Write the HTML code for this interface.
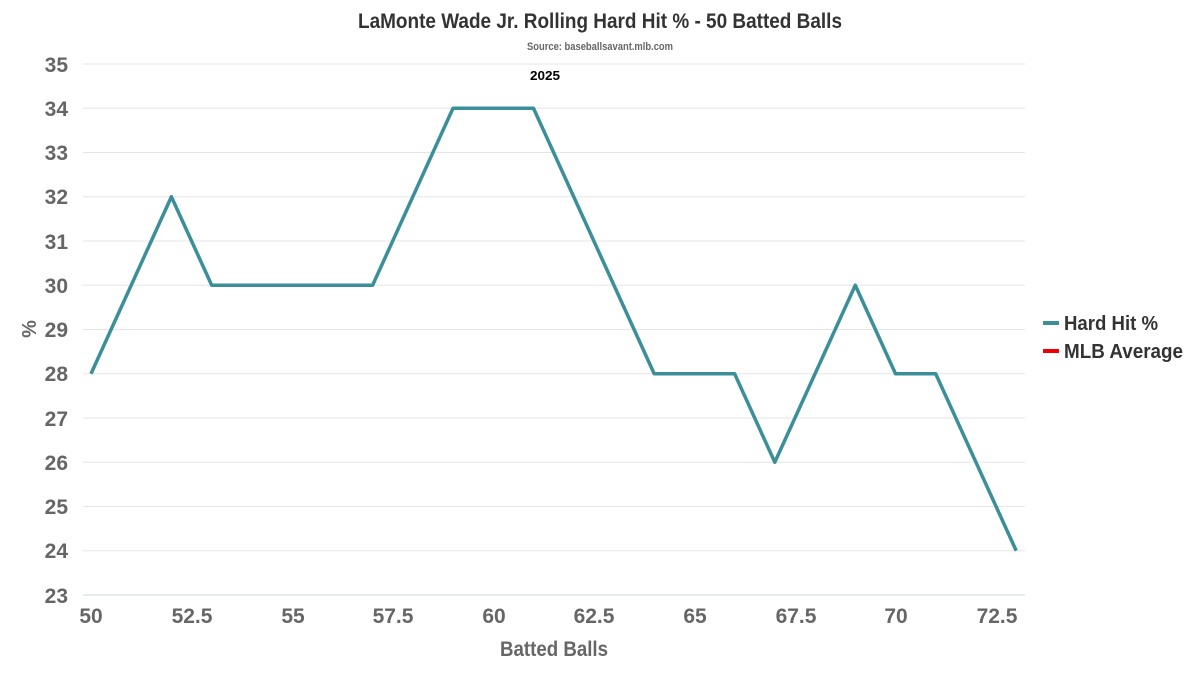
<!DOCTYPE html>
<html><head><meta charset="utf-8"><style>
html,body{margin:0;padding:0;background:#fff;}
svg text{font-family:"Liberation Sans Narrow","Liberation Sans",sans-serif;font-weight:bold;}
</style></head><body>
<svg width="1200" height="675" xmlns="http://www.w3.org/2000/svg">
<rect width="1200" height="675" fill="#fff"/>
<text x="358" y="28" font-size="21" fill="#333" textLength="484" lengthAdjust="spacingAndGlyphs">LaMonte Wade Jr. Rolling Hard Hit % - 50 Batted Balls</text>
<text x="527" y="50" font-size="11" fill="#666" textLength="146" lengthAdjust="spacingAndGlyphs">Source: baseballsavant.mlb.com</text>
<text x="530" y="80" font-size="13" fill="#000" textLength="30" lengthAdjust="spacingAndGlyphs">2025</text>
<g stroke="#e6e6e6" stroke-width="1">
<line x1="83" x2="1025" y1="64" y2="64"/><line x1="83" x2="1025" y1="108.25" y2="108.25"/>
<line x1="83" x2="1025" y1="152.5" y2="152.5"/><line x1="83" x2="1025" y1="196.75" y2="196.75"/>
<line x1="83" x2="1025" y1="241" y2="241"/><line x1="83" x2="1025" y1="285.25" y2="285.25"/>
<line x1="83" x2="1025" y1="329.5" y2="329.5"/><line x1="83" x2="1025" y1="373.75" y2="373.75"/>
<line x1="83" x2="1025" y1="418" y2="418"/><line x1="83" x2="1025" y1="462.25" y2="462.25"/>
<line x1="83" x2="1025" y1="506.5" y2="506.5"/><line x1="83" x2="1025" y1="550.75" y2="550.75"/>
</g>
<line x1="83" x2="1025" y1="595" y2="595" stroke="#ccd6eb" stroke-width="1"/>
<g font-size="21" fill="#666" text-anchor="end">
<text x="68" y="72">35</text><text x="68" y="116">34</text><text x="68" y="160">33</text>
<text x="68" y="204">32</text><text x="68" y="249">31</text><text x="68" y="293">30</text>
<text x="68" y="337">29</text><text x="68" y="381">28</text><text x="68" y="426">27</text>
<text x="68" y="470">26</text><text x="68" y="514">25</text><text x="68" y="558">24</text>
<text x="68" y="603">23</text>
</g>
<g font-size="21" fill="#666" text-anchor="middle">
<text x="91" y="623">50</text><text x="192" y="623">52.5</text><text x="293" y="623">55</text>
<text x="393" y="623">57.5</text><text x="494" y="623">60</text><text x="594" y="623">62.5</text>
<text x="695" y="623">65</text><text x="796" y="623">67.5</text><text x="896" y="623">70</text>
<text x="997" y="623">72.5</text>
</g>
<text x="500" y="656" font-size="21" fill="#666" textLength="108" lengthAdjust="spacingAndGlyphs">Batted Balls</text>
<text transform="translate(36,329) rotate(-90)" text-anchor="middle" font-size="20" fill="#666">%</text>
<polyline fill="none" stroke="#3a8f99" stroke-width="3.5" stroke-linejoin="round"
points="91,373.75 171.4,196.75 211.7,285.25 372.6,285.25 453,108.25 533.5,108.25 654.2,373.75 734.6,373.75 774.8,462.25 855.3,285.25 895.5,373.75 935.7,373.75 1016.2,550.75"/>
<line x1="1043" x2="1059" y1="323" y2="323" stroke="#3a8f99" stroke-width="4"/>
<text x="1064" y="330" font-size="20" fill="#333" textLength="94" lengthAdjust="spacingAndGlyphs">Hard Hit %</text>
<line x1="1043" x2="1059" y1="351" y2="351" stroke="#e00" stroke-width="4"/>
<text x="1064" y="358" font-size="20" fill="#333" textLength="119" lengthAdjust="spacingAndGlyphs">MLB Average</text>
</svg>
</body></html>
